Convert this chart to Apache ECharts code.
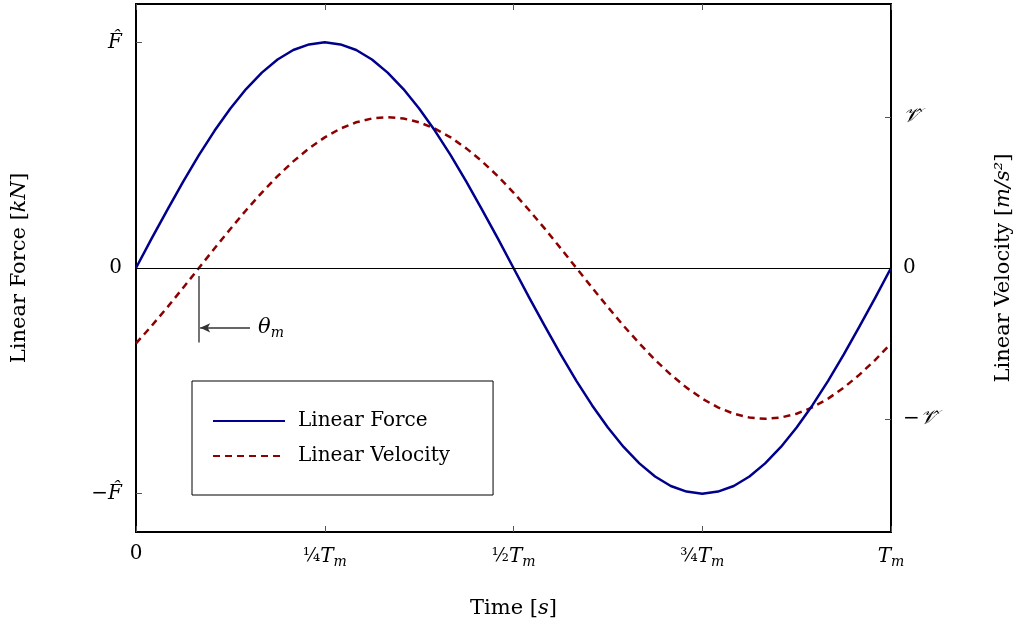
<!DOCTYPE html>
<html>
<head>
<meta charset="utf-8">
<script src="https://cdn.jsdelivr.net/npm/echarts@6/dist/echarts.min.js"></script>
<style>
  html, body { margin: 0; padding: 0; background: #fff; }
  #main { width: 1027px; height: 630px; }
</style>
</head>
<body>
<div id="main"></div>
<script>
// time as a fraction of T_m
const times = [0, 0.0208, 0.0417, 0.0625, 0.0833, 0.1042, 0.125, 0.1458, 0.1667, 0.1875, 0.2083, 0.2292,
  0.25, 0.2708, 0.2917, 0.3125, 0.3333, 0.3542, 0.375, 0.3958, 0.4167, 0.4375, 0.4583, 0.4792,
  0.5, 0.5208, 0.5417, 0.5625, 0.5833, 0.6042, 0.625, 0.6458, 0.6667, 0.6875, 0.7083, 0.7292,
  0.75, 0.7708, 0.7917, 0.8125, 0.8333, 0.8542, 0.875, 0.8958, 0.9167, 0.9375, 0.9583, 0.9792, 1];
// force in units of F-hat
const forceVals = [0, 0.131, 0.259, 0.383, 0.5, 0.609, 0.707, 0.793, 0.866, 0.924, 0.966, 0.991,
  1, 0.991, 0.966, 0.924, 0.866, 0.793, 0.707, 0.609, 0.5, 0.383, 0.259, 0.131,
  0, -0.131, -0.259, -0.383, -0.5, -0.609, -0.707, -0.793, -0.866, -0.924, -0.966, -0.991,
  -1, -0.991, -0.966, -0.924, -0.866, -0.793, -0.707, -0.609, -0.5, -0.383, -0.259, -0.131, 0];
// velocity in units of V-hat (right axis)
const velocityVals = [-0.5, -0.383, -0.259, -0.131, 0, 0.131, 0.259, 0.383, 0.5, 0.609, 0.707, 0.793,
  0.866, 0.924, 0.966, 0.991, 1, 0.991, 0.966, 0.924, 0.866, 0.793, 0.707, 0.609,
  0.5, 0.383, 0.259, 0.131, 0, -0.131, -0.259, -0.383, -0.5, -0.609, -0.707, -0.793,
  -0.866, -0.924, -0.966, -0.991, -1, -0.991, -0.966, -0.924, -0.866, -0.793, -0.707, -0.609, -0.5];
const xTicks = [0, 0.25, 0.5, 0.75, 1];
const xTickLabels = ['0', '{f|¼}{t|T}{s|m}', '{f|½}{t|T}{s|m}', '{f|¾}{t|T}{s|m}', '{t|T}{s|m}'];
const yTicks = [-1, 0, 1];
const leftTickLabels = { '-1': '−{t|F\u0302}', '0': '0', '1': '{t|F\u0302}' };
const rightTickLabels = { '-1': '−{t|\u{1D4B1}\u0302}', '0': '0', '1': '{t|\u{1D4B1}\u0302}' };
// theta_m annotation (time, force units)
const thetaT = 0.083;
const thetaLine = [-0.035, -0.33];
const arrowY = -0.265;
const arrowStartT = 0.151;

const FONT = 'DejaVu Serif';
const rich = {
  t: { fontFamily: FONT, fontStyle: 'italic', fontSize: 20, color: '#000' },
  s: { fontFamily: FONT, fontStyle: 'italic', fontSize: 14, color: '#000', verticalAlign: 'bottom', padding: [11, 0, 0, 0] },
  f: { fontFamily: FONT, fontSize: 18, color: '#000' },
  i: { fontFamily: FONT, fontStyle: 'italic', fontSize: 21, color: '#000' }
};

const chart = echarts.init(document.getElementById('main'));

function xy(vals) {
  return times.map((t, i) => [t, vals[i]]);
}

const tickStyle = { inside: true, length: 6, lineStyle: { color: '#555' } };

const option = {
  animation: false,
  textStyle: { fontFamily: FONT },
  grid: {
    left: 136, right: 136, top: 4, bottom: 98,
    show: true, borderColor: '#000', borderWidth: 2, backgroundColor: 'transparent'
  },
  legend: {
    orient: 'vertical',
    left: 192, top: 381,
    padding: [30, 43, 29, 20],
    itemGap: 15,
    itemWidth: 72,
    itemHeight: 14,
    borderColor: '#000',
    borderWidth: 1,
    borderRadius: 0,
    backgroundColor: '#fff',
    itemStyle: { opacity: 0 },
    textStyle: { fontFamily: FONT, fontSize: 20, color: '#000', padding: [0, 0, 0, 8] },
    data: ['Linear Force', 'Linear Velocity']
  },
  xAxis: [{
    type: 'value', min: 0, max: 1, interval: 0.25,
    name: 'Time [{i|s}]', nameLocation: 'middle', nameGap: 66,
    nameTextStyle: { fontFamily: FONT, fontSize: 21, color: '#000', rich: rich },
    axisLine: { show: false, onZero: false },
    splitLine: { show: false },
    axisTick: tickStyle,
    axisLabel: {
      margin: 12, fontSize: 20, color: '#000', fontFamily: FONT, rich: rich,
      formatter: v => xTickLabels[xTicks.indexOf(v)]
    }
  }, {
    type: 'value', min: 0, max: 1, interval: 0.25, position: 'top',
    axisLine: { show: false, onZero: false }, splitLine: { show: false },
    axisTick: tickStyle,
    axisLabel: { show: false }
  }],
  yAxis: [{
    type: 'value', min: -1.17, max: 1.17,
    name: 'Linear Force [{i|kN}]', nameLocation: 'middle', nameGap: 106, nameRotate: 90,
    nameTextStyle: { fontFamily: FONT, fontSize: 21, color: '#000', rich: rich },
    axisLine: { show: false, onZero: false }, splitLine: { show: false },
    axisTick: Object.assign({ customValues: yTicks }, tickStyle),
    axisLabel: {
      customValues: yTicks, margin: 14, fontSize: 20, color: '#000', fontFamily: FONT, rich: rich,
      formatter: v => leftTickLabels[String(v)]
    }
  }, {
    type: 'value', min: -1.75, max: 1.75, position: 'right',
    name: 'Linear Velocity [{i|m/s²}]', nameLocation: 'middle', nameGap: 102, nameRotate: 90,
    nameTextStyle: { fontFamily: FONT, fontSize: 21, color: '#000', rich: rich },
    axisLine: { show: false, onZero: false }, splitLine: { show: false },
    axisTick: Object.assign({ customValues: yTicks }, tickStyle),
    axisLabel: {
      customValues: yTicks, margin: 12, fontSize: 20, color: '#000', fontFamily: FONT, rich: rich,
      formatter: v => rightTickLabels[String(v)]
    }
  }],
  series: [{
    name: 'Linear Force',
    type: 'line',
    data: xy(forceVals),
    smooth: false,
    symbol: 'none',
    color: '#00008c',
    lineStyle: { width: 2.5, color: '#00008c', join: 'round' },
    z: 3,
    markLine: {
      silent: true,
      animation: false,
      label: { show: false },
      data: [
        [{ coord: [0, 0], symbol: 'none', lineStyle: { color: '#000', width: 1, type: 'solid' } },
         { coord: [1, 0], symbol: 'none' }],
        [{ coord: [thetaT, thetaLine[0]], symbol: 'none', lineStyle: { color: '#444', width: 1.5, type: 'solid' } },
         { coord: [thetaT, thetaLine[1]], symbol: 'none' }],
        [{ coord: [thetaT + 0.002, arrowY], symbol: 'arrow', symbolSize: [7, 10], lineStyle: { color: '#333', width: 1.5, type: 'solid' } },
         { coord: [arrowStartT, arrowY], symbol: 'none',
           label: { show: true, position: 'end', distance: 8, formatter: '{i|θ}{s|m}', rich: rich } }]
      ]
    }
  }, {
    name: 'Linear Velocity',
    type: 'line',
    yAxisIndex: 1,
    data: xy(velocityVals),
    smooth: false,
    symbol: 'none',
    color: '#8c0000',
    lineStyle: { width: 2.5, color: '#8c0000', type: [7, 5], join: 'round' },
    z: 2
  }]
};

chart.setOption(option);
</script>
</body>
</html>
